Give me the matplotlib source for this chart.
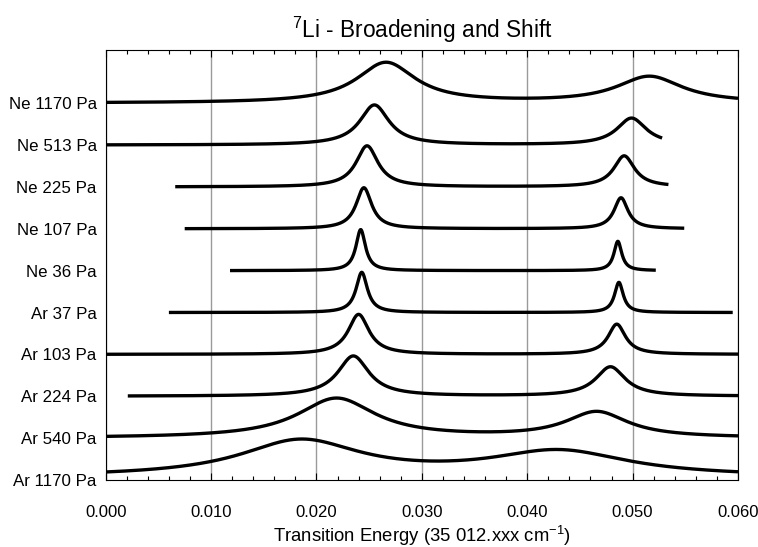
#!/usr/bin/env python3
import matplotlib
matplotlib.use('Agg')
import matplotlib.pyplot as plt
import matplotlib.ticker as mtick
import numpy as np

# trace labels, bottom to top (each trace sits one unit above the previous)
labels = ['Ar 1170 Pa', 'Ar 540 Pa', 'Ar 224 Pa', 'Ar 103 Pa', 'Ar 37 Pa',
          'Ne 36 Pa', 'Ne 107 Pa', 'Ne 225 Pa', 'Ne 513 Pa', 'Ne 1170 Pa']

# scan range of each trace (cm-1, offset from 35 012)
x_start = [0.0, 0.0, 0.0021, 0.0, 0.0060, 0.0118, 0.0075, 0.0066, 0.0, 0.0]
x_end = [0.060, 0.060, 0.060, 0.060, 0.0595, 0.0522, 0.0549, 0.0534, 0.0528, 0.060]
baseline = [0.064, 0.0, 0.0, 0.0, 0.0, 0.0, 0.0, 0.0, 0.0, 0.0]

# line parameters: centre, half width, height
peak1_pos = [0.0185, 0.0219, 0.0235, 0.0240, 0.0243, 0.0242, 0.0245, 0.0248, 0.0255, 0.0266]
peak1_hwhm = [0.0070, 0.0045, 0.0018, 0.0012, 0.00065, 0.00055, 0.0009, 0.00127, 0.0017, 0.0034]
peak1_height = [0.857, 0.945, 0.96, 0.955, 0.96, 0.98, 0.98, 0.98, 0.955, 0.964]

peak2_pos = [0.0430, 0.0466, 0.0479, 0.0485, 0.0487, 0.0486, 0.0489, 0.0492, 0.0499, 0.0516]
peak2_hwhm = [0.0080, 0.0036, 0.0017, 0.0010, 0.0005, 0.00045, 0.0008, 0.0012, 0.0017, 0.0038]
peak2_height = [0.60, 0.61, 0.70, 0.72, 0.72, 0.70, 0.74, 0.74, 0.64, 0.628]

x_ticks = [0.000, 0.010, 0.020, 0.030, 0.040, 0.050, 0.060]


def lorentz(x, c, w):
    return 1.0 / (1.0 + ((x - c) / w) ** 2)


plt.rcParams['font.family'] = 'Liberation Sans'
plt.rcParams['mathtext.fontset'] = 'custom'
plt.rcParams['mathtext.rm'] = 'Liberation Sans'
plt.rcParams['mathtext.it'] = 'Liberation Sans:italic'
plt.rcParams['mathtext.default'] = 'rm'

fig = plt.figure(figsize=(7.58, 5.47), dpi=100)
ax = fig.add_axes([0.1394, 0.1225, 0.8342, 0.7861])

for i in range(len(labels)):
    x = np.linspace(x_start[i], x_end[i], 1500)
    y = (i + baseline[i]
         + peak1_height[i] * lorentz(x, peak1_pos[i], peak1_hwhm[i])
         + peak2_height[i] * lorentz(x, peak2_pos[i], peak2_hwhm[i]))
    ax.plot(x, y, color='black', lw=2.4, solid_capstyle='butt', zorder=3)

ax.set_xlim(0, 0.060)
ax.set_ylim(0, 10.27)
ax.set_xticks(x_ticks)
ax.xaxis.set_major_formatter(mtick.FormatStrFormatter('%.3f'))
ax.xaxis.set_minor_locator(mtick.MultipleLocator(0.002))
ax.tick_params(axis='x', which='both', direction='in', top=True, bottom=True,
               labelsize=12, pad=18, width=0.8, color='black')
ax.tick_params(axis='x', which='major', length=5)
ax.tick_params(axis='x', which='minor', length=3)

ax.set_yticks(range(len(labels)))
ax.set_yticklabels(labels)
ax.tick_params(axis='y', length=0, pad=6.5, labelsize=12.2)

ax.grid(axis='x', which='major', color='#9a9a9a', lw=1.0)
for s in ax.spines.values():
    s.set_linewidth(0.8)

ax.set_title('$^7$Li - Broadening and Shift', fontsize=16.3, pad=9)
ax.set_xlabel('Transition Energy (35 012.xxx cm$^{-1}$)', fontsize=13.3, labelpad=3)

fig.savefig('out.png', dpi=100)
